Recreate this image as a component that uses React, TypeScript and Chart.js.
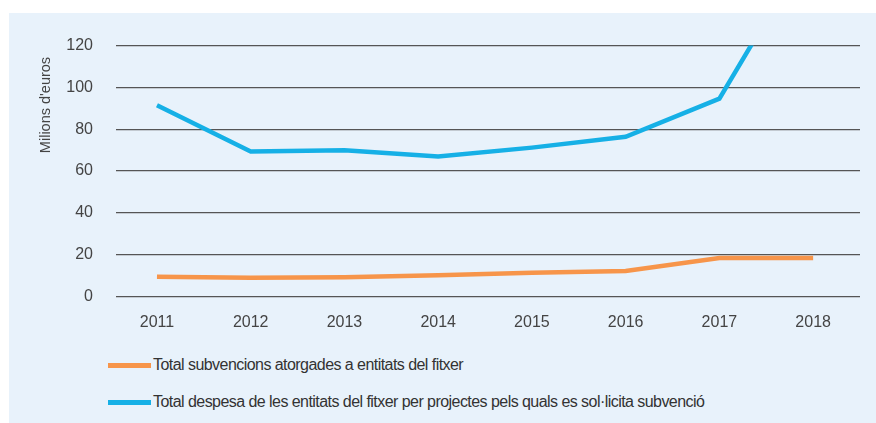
import React, { useEffect, useRef } from "react";
import { Chart, registerables } from "chart.js";

Chart.register(...registerables);

const years = [2011, 2012, 2013, 2014, 2015, 2016, 2017, 2018];
const subvencions = [9.4, 9.0, 9.2, 10.2, 11.3, 12.2, 18.4, 18.4];
const despesa = [91.5, 69.3, 70.0, 67.0, 71.2, 76.4, 94.6, 170];
const yTicks = [0, 20, 40, 60, 80, 100, 120];

const seriesNames = [
  "Total subvencions atorgades a entitats del fitxer",
  "Total despesa de les entitats del fitxer per projectes pels quals es sol·licita subvenció",
];
const ORANGE = "#f7954a";
const BLUE = "#16b0e6";
const FONT = "'Liberation Sans', Arial, sans-serif";

export default function App() {
  const ref = useRef<HTMLCanvasElement | null>(null);

  useEffect(() => {
    if (!ref.current) return;
    const chart = new Chart(ref.current, {
      type: "line",
      data: {
        datasets: [
          {
            label: seriesNames[0],
            data: years.map((y, i) => ({ x: y, y: subvencions[i] })),
            borderColor: ORANGE,
            backgroundColor: ORANGE,
            borderWidth: 4.5,
            pointRadius: 0,
            tension: 0,
            clip: { left: 5, right: 5, top: 0, bottom: 5 } as any,
          },
          {
            label: seriesNames[1],
            data: years.map((y, i) => ({ x: y, y: despesa[i] })),
            borderColor: BLUE,
            backgroundColor: BLUE,
            borderWidth: 4.5,
            pointRadius: 0,
            tension: 0,
            clip: { left: 5, right: 5, top: 0, bottom: 5 } as any,
          },
        ],
      },
      options: {
        animation: false,
        responsive: true,
        maintainAspectRatio: false,
        layout: { padding: { top: 29, right: 16, left: 0, bottom: 0 } },
        plugins: { legend: { display: false }, tooltip: { enabled: false } },
        scales: {
          x: {
            type: "linear",
            min: 2010.563,
            max: 2018.5,
            grid: { display: false, drawTicks: false },
            border: { display: false },
            afterFit: (s: any) => {
              s.height = 43.5;
            },
            ticks: {
              stepSize: 1,
              includeBounds: false,
              padding: 16,
              color: "#444",
              font: { family: FONT, size: 16 },
              callback: (v: any) => String(v),
            },
          },
          y: {
            min: 0,
            max: 120,
            grid: { color: "#555", lineWidth: 1.3, drawTicks: false },
            border: { display: false },
            afterFit: (s: any) => {
              s.width = 107;
            },
            afterBuildTicks: (s: any) => {
              s.ticks = yTicks.map((v) => ({ value: v }));
            },
            ticks: {
              padding: 23,
              color: "#444",
              font: { family: FONT, size: 16 },
            },
          },
        },
      },
    });
    return () => chart.destroy();
  }, []);

  const legendRow = (color: string, text: string, top: number) => (
    <div
      style={{
        position: "absolute",
        left: 99,
        top: top - 10,
        height: 20,
        display: "flex",
        alignItems: "center",
        whiteSpace: "nowrap",
      }}
    >
      <div style={{ width: 43, height: 5, background: color, marginRight: 2 }} />
      <span style={{ fontFamily: FONT, fontSize: 16, color: "#333", letterSpacing: -0.55 }}>{text}</span>
    </div>
  );

  return (
    <div
      style={{
        position: "absolute",
        left: 9,
        top: 13,
        width: 867,
        height: 410,
        background: "#e8f2fb",
        overflow: "hidden",
      }}
    >
      <div style={{ position: "absolute", left: 0, top: 0, width: 867, height: 327 }}>
        <canvas ref={ref} />
      </div>
      <div
        style={{
          position: "absolute",
          left: 36 - 60,
          top: 92 - 10,
          width: 120,
          height: 20,
          lineHeight: "20px",
          textAlign: "center",
          transform: "rotate(-90deg)",
          fontFamily: FONT,
          fontSize: 14.5,
          color: "#444",
          whiteSpace: "nowrap",
        }}
      >
        Milions d'euros
      </div>
      {legendRow(ORANGE, seriesNames[0], 352)}
      {legendRow(BLUE, seriesNames[1], 389)}
    </div>
  );
}
